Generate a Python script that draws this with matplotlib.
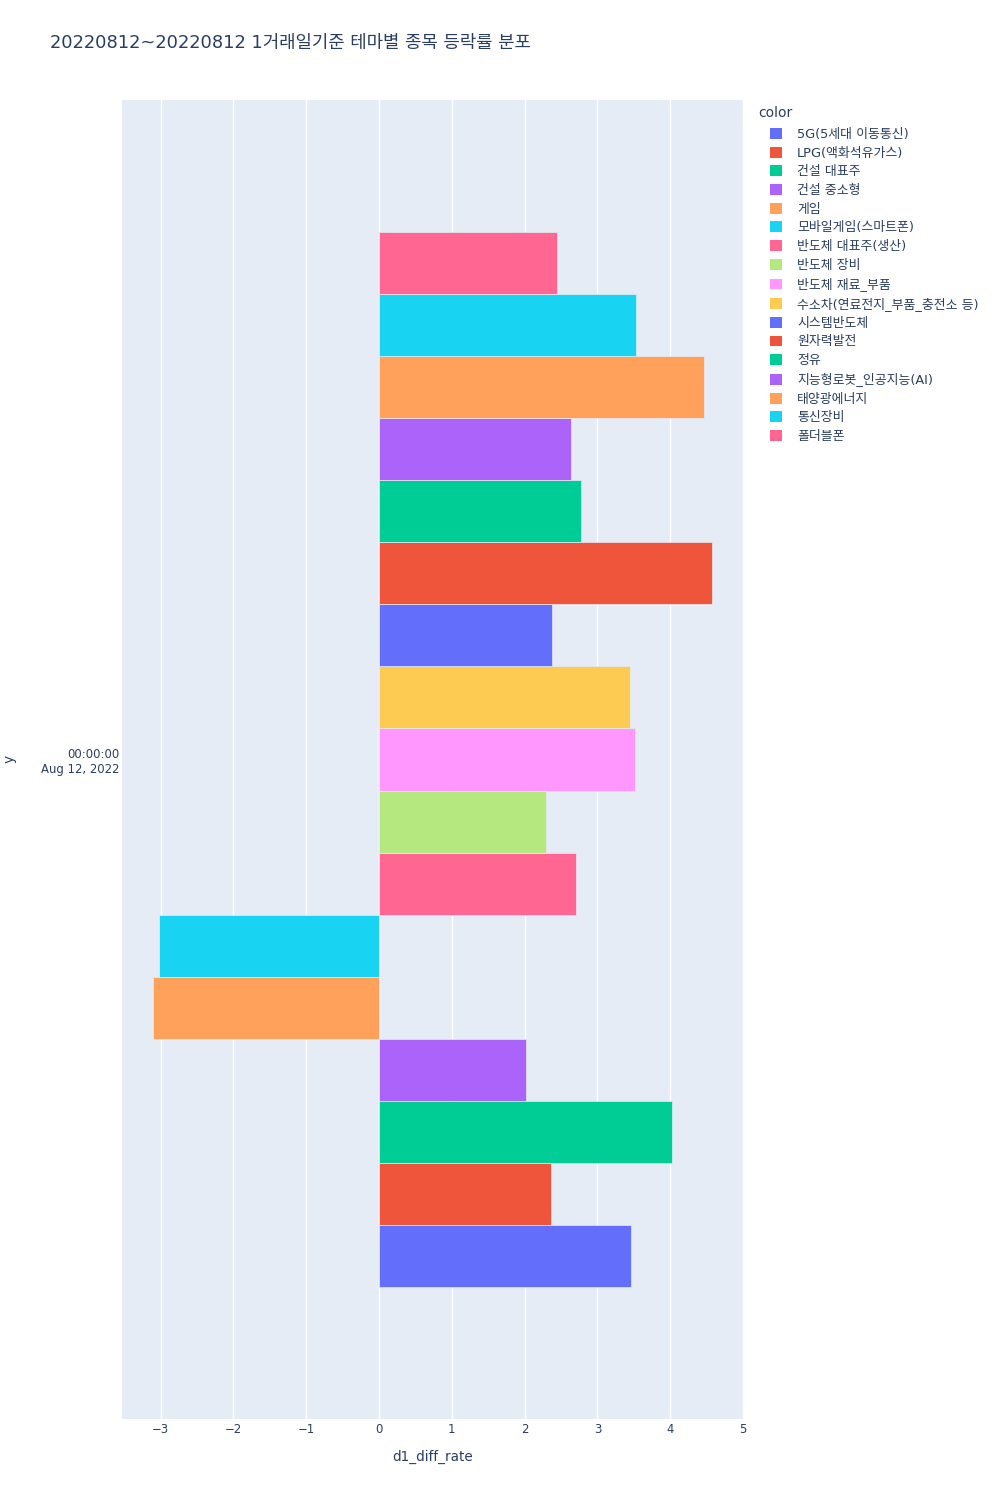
import matplotlib.pyplot as plt
from matplotlib.patches import Patch

themes = ['5G(5세대 이동통신)', 'LPG(액화석유가스)', '건설 대표주', '건설 중소형', '게임',
          '모바일게임(스마트폰)', '반도체 대표주(생산)', '반도체 장비', '반도체 재료_부품',
          '수소차(연료전지_부품_충전소 등)', '시스템반도체', '원자력발전', '정유',
          '지능형로봇_인공지능(AI)', '태양광에너지', '통신장비', '폴더블폰']
rates = [3.46, 2.36, 4.03, 2.02, -3.11, -3.02, 2.71, 2.30, 3.51,
         3.45, 2.38, 4.57, 2.77, 2.64, 4.46, 3.53, 2.44]
palette = ['#636EFA', '#EF553B', '#00CC96', '#AB63FA', '#FFA15A',
           '#19D3F3', '#FF6692', '#B6E880', '#FF97FF', '#FECB52']
x_ticks = [-3, -2, -1, 0, 1, 2, 3, 4, 5]

plt.rcParams['font.family'] = ['DejaVu Sans', 'Noto Sans CJK KR']
txt = '#2a3f5f'

fig = plt.figure(figsize=(10, 15), dpi=100)
ax = fig.add_axes([0.122, 0.054, 0.621, 0.8793])
ax.set_facecolor('#E5ECF6')

n = len(themes)
w = 0.8 / n
handles = []
for i, (name, val) in enumerate(zip(themes, rates)):
    c = palette[i % len(palette)]
    ax.barh(-0.4 + (i + 0.5) * w, val, height=w, color=c,
            edgecolor='#E5ECF6', linewidth=0.5, zorder=3)
    handles.append(Patch(facecolor=c, edgecolor='none', label=name))

ax.set_xlim(-3.53, 5.0)
ax.set_ylim(-0.5, 0.5)
ax.set_xticks(x_ticks)
ax.set_yticks([0])
ax.set_yticklabels(['00:00:00\nAug 12, 2022'], ha='right', linespacing=1.2)
ax.grid(axis='x', color='white', linewidth=1, zorder=0)
ax.set_axisbelow(True)
for s in ax.spines.values():
    s.set_visible(False)
ax.tick_params(length=0, colors=txt, labelsize=8.4, pad=3)
ax.tick_params(axis='y', pad=2)
ax.set_xlabel('d1_diff_rate', color=txt, fontsize=9.8, labelpad=10)

fig.text(0.010, 0.494, 'y', rotation=90, color=txt, fontsize=9.8, va='center', ha='center')
fig.text(0.050, 1 - 43 / 1500, '20220812~20220812 1거래일기준 테마별 종목 등락률 분포',
         color=txt, fontsize=12.85, va='center', ha='left')
fig.text(0.758, 1 - 113 / 1500, 'color', color=txt, fontsize=10, va='center', ha='left')

leg = fig.legend(handles=handles, loc='upper left',
                 bbox_to_anchor=(0.770, 1 - 128 / 1500), frameon=False, fontsize=9.3,
                 handlelength=0.93, handleheight=0.93,
                 handletextpad=1.16, labelspacing=0.44, borderpad=0,
                 borderaxespad=0)
for t in leg.get_texts():
    t.set_color(txt)

fig.savefig('out.png')
